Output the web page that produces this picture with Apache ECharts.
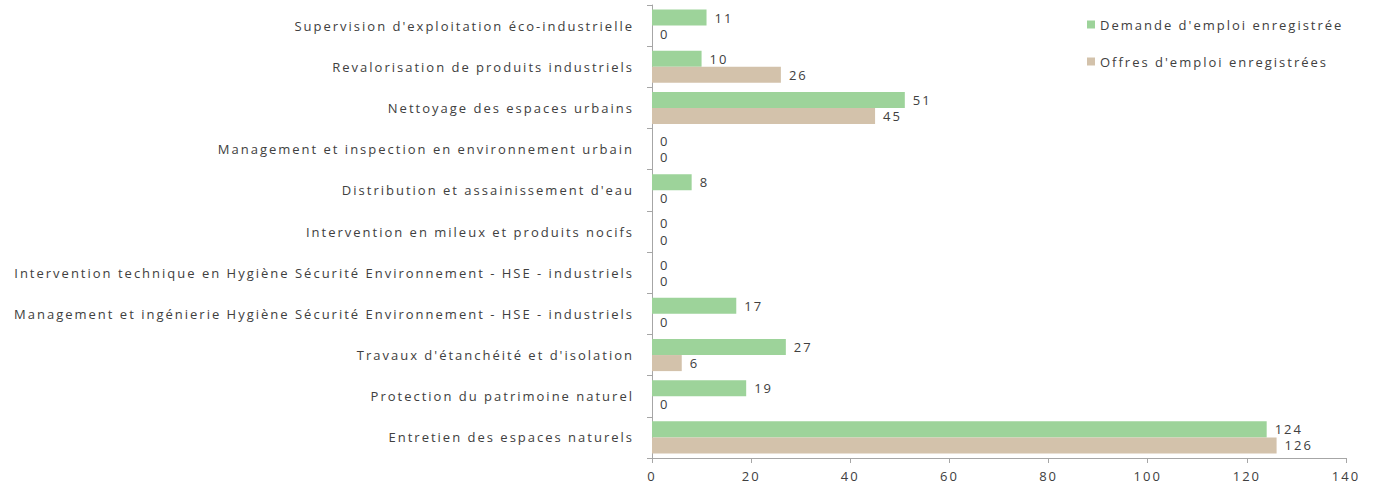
<!DOCTYPE html>
<html><head><meta charset="utf-8">
<script src="https://cdn.jsdelivr.net/npm/echarts@6/dist/echarts.min.js"></script>
<style>html,body{margin:0;padding:0;background:#fff}#c{width:1375px;height:489px}
#c svg text{letter-spacing:2px}</style>
</head><body><div id="c"></div>
<script>
const categories = [
  "Entretien des espaces naturels",
  "Protection du patrimoine naturel",
  "Travaux d'étanchéité et d'isolation",
  "Management et ingénierie Hygiène Sécurité Environnement - HSE - industriels",
  "Intervention technique en Hygiène Sécurité Environnement - HSE - industriels",
  "Intervention en mileux et produits nocifs",
  "Distribution et assainissement d'eau",
  "Management et inspection en environnement urbain",
  "Nettoyage des espaces urbains",
  "Revalorisation de produits industriels",
  "Supervision d'exploitation éco-industrielle"
];
const demandes = [124, 19, 27, 17, 0, 0, 8, 0, 51, 10, 11];
const offres = [126, 0, 6, 0, 0, 0, 0, 0, 45, 26, 0];
const seriesNames = ["Demande d'emploi enregistrée", "Offres d'emploi enregistrées"];

const font = "'Open Sans', sans-serif";
const chart = echarts.init(document.getElementById('c'), null, {renderer:'svg'});
const lbl = {show:true, position:'right', distance:8, color:'#404040', fontSize:13, fontFamily:font};
chart.setOption({
  animation:false,
  grid:{left:652, right:29, top:5, bottom:31, containLabel:false},
  legend:{
    data:seriesNames, orient:'vertical', left:1082, top:13, itemGap:24,
    itemWidth:8, itemHeight:8, icon:'rect',
    textStyle:{color:'#404040', fontSize:13, fontFamily:font, padding:[0,0,0,0]}
  },
  xAxis:{type:'value', min:0, max:140, interval:20,
    axisLine:{show:true, lineStyle:{color:'#a6a6a6'}},
    axisTick:{show:true, length:5, lineStyle:{color:'#a6a6a6'}},
    splitLine:{show:false},
    axisLabel:{color:'#404040', fontSize:13, fontFamily:font, margin:11}
  },
  yAxis:{type:'category', data:categories,
    axisLine:{show:true, lineStyle:{color:'#a6a6a6'}},
    axisTick:{show:true, length:5, lineStyle:{color:'#a6a6a6'}},
    axisLabel:{color:'#404040', fontSize:13, fontFamily:font, margin:18}
  },
  series:[
    {name:seriesNames[0], type:'bar', data:demandes, barGap:'0%', barCategoryGap:'22%',
     itemStyle:{color:'#9dd39a'}, label:lbl},
    {name:seriesNames[1], type:'bar', data:offres, barGap:'0%', barCategoryGap:'22%',
     itemStyle:{color:'#d3c2ab'}, label:lbl}
  ]
});
</script></body></html>
